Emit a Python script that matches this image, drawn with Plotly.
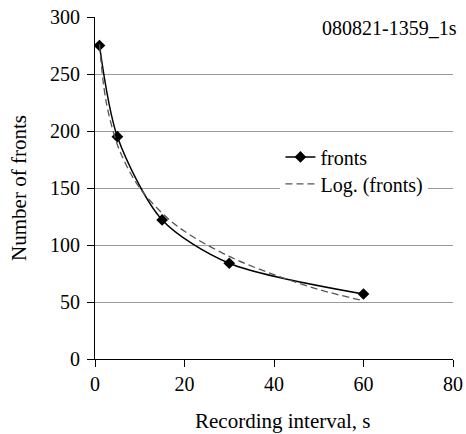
import plotly.graph_objects as go

interval_s = [1, 5, 15, 30, 60]
fronts = [275, 195, 122, 84, 57]

# dashed logarithmic trendline
trend_x = [1, 2, 3, 5, 7, 10, 15, 20, 30, 40, 50, 60]
trend_y = [276, 238, 216, 188, 170, 150, 128, 112, 90, 74, 61, 51]

x_ticks = [0, 20, 40, 60, 80]
y_ticks = [0, 50, 100, 150, 200, 250, 300]

FONT = "Liberation Serif"

fig = go.Figure()
fig.add_trace(go.Scatter(
    x=interval_s, y=fronts, name="fronts", mode="lines+markers",
    line=dict(color="black", width=1.5, shape="spline", smoothing=0.8),
    marker=dict(symbol="diamond", size=9, color="black"),
    legend="legend2",
))
fig.add_trace(go.Scatter(
    x=trend_x, y=trend_y, name="Log. (fronts)", mode="lines",
    line=dict(color="#555555", width=1.3, dash="7px,4px", shape="spline"),
    legend="legend",
))

leg_common = dict(xanchor="left", yanchor="middle",
                  borderwidth=0, font=dict(size=20, family=FONT))

fig.update_layout(
    width=466, height=434,
    margin=dict(l=95, r=13, t=17, b=75, autoexpand=False),
    paper_bgcolor="white", plot_bgcolor="white",
    font=dict(family=FONT, size=20, color="black"),
    showlegend=True,
    legend2=dict(x=0.518, y=0.591, bgcolor="rgba(0,0,0,0)", **leg_common),
    legend=dict(x=0.518, y=0.512, bgcolor="white", **leg_common),
    xaxis=dict(range=[0, 80], tickvals=x_ticks, showgrid=False,
               showline=True, linecolor="black", linewidth=1,
               ticks="outside", ticklen=7, tickcolor="black",
               ticklabeloverflow="allow",
               zeroline=False, automargin=False,
               tickfont=dict(family=FONT, size=20)),
    yaxis=dict(range=[0, 300], tickvals=y_ticks, showgrid=True,
               gridcolor="#9a9a9a", gridwidth=1,
               showline=True, linecolor="black", linewidth=1,
               ticks="outside", ticklen=7, tickcolor="black",
               ticklabelstandoff=3, ticklabeloverflow="allow",
               zeroline=False, automargin=False,
               tickfont=dict(family=FONT, size=20),
               title=dict(text="Number of fronts", standoff=17,
                          font=dict(family=FONT, size=21))),
    annotations=[
        dict(text="080821-1359_1s", x=1.017, y=0.968,
             xref="paper", yref="paper", xanchor="right",
             yanchor="middle", showarrow=False,
             font=dict(family=FONT, size=20)),
        dict(text="Recording interval, s", x=0.525, y=-0.18,
             xref="paper", yref="paper", xanchor="center",
             yanchor="middle", showarrow=False,
             font=dict(family=FONT, size=21)),
    ],
)

fig.write_html(
    "out.html",
    config={"displayModeBar": False},
    post_script="document.body.style.margin='0';document.body.style.overflow='hidden';",
)
